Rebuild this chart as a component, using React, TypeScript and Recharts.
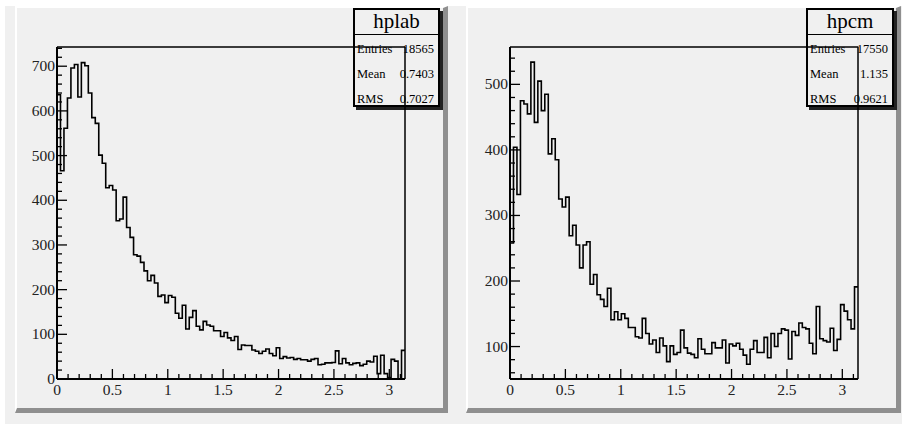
import React from "react";
import { LineChart, Line, XAxis, YAxis, ReferenceLine } from "recharts";

// ---- data ----
const HPLAB_VALUES = [
  636, 466, 561, 629, 696, 704, 631, 708, 701, 640,
  585, 572, 501, 483, 428, 433, 423, 354, 358, 407,
  339, 317, 278, 275, 261, 242, 220, 232, 215, 185,
  188, 171, 187, 183, 147, 136, 165, 112, 138, 153,
  118, 110, 129, 121, 118, 108, 108, 95, 104, 92,
  86, 95, 66, 76, 75, 75, 65, 62, 57, 62,
  67, 57, 52, 70, 46, 50, 47, 48, 44, 46,
  43, 43, 40, 44, 46, 32, 33, 36, 36, 37,
  63, 34, 46, 36, 32, 35, 36, 30, 33, 40,
  38, 51, 12, 53, 12, 3, 44, 40, 0, 64,
];

const HPCM_VALUES = [
  258, 404, 332, 475, 470, 455, 534, 442, 505, 460,
  485, 394, 417, 385, 325, 313, 328, 269, 285, 255,
  220, 255, 260, 195, 210, 179, 172, 161, 189, 141,
  153, 141, 150, 143, 129, 129, 115, 113, 143, 120,
  104, 110, 91, 113, 101, 77, 101, 88, 91, 125,
  98, 90, 88, 83, 112, 96, 89, 89, 106, 98,
  98, 110, 75, 104, 101, 105, 96, 87, 73, 96,
  109, 91, 91, 114, 83, 120, 100, 120, 127, 125,
  81, 123, 117, 136, 129, 127, 105, 89, 161, 112,
  109, 107, 128, 94, 111, 164, 154, 141, 127, 191,
];

const X_MAX = Math.PI;
const X_TICKS = [0, 0.1, 0.2, 0.3, 0.4, 0.5, 0.6, 0.7, 0.8, 0.9, 1, 1.1, 1.2, 1.3, 1.4, 1.5, 1.6, 1.7, 1.8, 1.9, 2, 2.1, 2.2, 2.3, 2.4, 2.5, 2.6, 2.7, 2.8, 2.9, 3, 3.1];
const X_MAJOR = [0, 0.5, 1, 1.5, 2, 2.5, 3];

const HPLAB_DOMAIN = [0, 743];
const HPLAB_Y_TICKS = Array.from({ length: 38 }, (_, k) => k * 20);
const HPLAB_Y_MAJOR = [0, 100, 200, 300, 400, 500, 600, 700];

const HPCM_DOMAIN = [50.5, 557];
const HPCM_Y_TICKS = Array.from({ length: 25 }, (_, k) => 60 + k * 20);
const HPCM_Y_MAJOR = [100, 200, 300, 400, 500];

const STAT_LABELS = ["Entries", "Mean", "RMS"];
const HPLAB_STATS = ["18565", "0.7403", "0.7027"];
const HPCM_STATS = ["17550", "1.135", "0.9621"];

const FONT = "'Liberation Serif', 'DejaVu Serif', serif";
const PAD_BG = "#f0f0f0";

function toBins(values: number[]) {
  const w = X_MAX / values.length;
  const pts = values.map((v, i) => ({ x: i * w, y: v }));
  pts.push({ x: X_MAX, y: values[values.length - 1] });
  return pts;
}

function isIn(list: number[], v: number) {
  return list.some((m) => Math.abs(m - v) < 1e-6);
}

function makeXTick() {
  return (props: any) => {
    const { x, y, payload } = props;
    const v = payload.value;
    const major = isIn(X_MAJOR, v);
    return (
      <g>
        <line x1={x} x2={x} y1={y} y2={y - (major ? 10 : 5)} stroke="#000" strokeWidth={1.3} />
        {major && (
          <text x={x} y={y + 16} textAnchor="middle" fontFamily={FONT} fontSize={15.5} fill="#222">
            {String(v)}
          </text>
        )}
      </g>
    );
  };
}

function makeYTick(majors: number[]) {
  return (props: any) => {
    const { x, y, payload } = props;
    const v = payload.value;
    const major = isIn(majors, v);
    return (
      <g>
        <line x1={x} x2={x + (major ? 10 : 5)} y1={y} y2={y} stroke="#000" strokeWidth={1.3} />
        {major && (
          <text x={x - 2} y={y + 5} textAnchor="end" fontFamily={FONT} fontSize={15.5} fill="#222">
            {String(v)}
          </text>
        )}
      </g>
    );
  };
}

function Hist(props: {
  values: number[];
  domain: number[];
  yTicks: number[];
  yMajor: number[];
  width: number;
  margin: any;
}) {
  const data = toBins(props.values);
  return (
    <LineChart width={props.width} height={424} data={data} margin={props.margin}>
      <XAxis
        dataKey="x"
        type="number"
        domain={[0, X_MAX]}
        ticks={X_TICKS}
        interval={0}
        allowDataOverflow
        tickSize={0}
        tickMargin={0}
        tickLine={false}
        height={30}
        axisLine={{ stroke: "#000", strokeWidth: 2 }}
        tick={makeXTick()}
      />
      <YAxis
        type="number"
        domain={props.domain}
        ticks={props.yTicks}
        interval={0}
        allowDataOverflow
        tickSize={0}
        tickMargin={0}
        tickLine={false}
        width={40}
        axisLine={{ stroke: "#000", strokeWidth: 2 }}
        tick={makeYTick(props.yMajor)}
      />
      <ReferenceLine y={props.domain[1]} stroke="#000" strokeWidth={1.5} />
      <ReferenceLine x={X_MAX} stroke="#000" strokeWidth={1.5} />
      <Line
        dataKey="y"
        type="stepAfter"
        stroke="#000"
        strokeWidth={1.6}
        dot={false}
        activeDot={false}
        isAnimationActive={false}
      />
    </LineChart>
  );
}

function StatBox(props: { left: number; width: number; title: string; values: string[] }) {
  const { left, width, title, values } = props;
  return (
    <div
      style={{
        position: "absolute",
        left,
        top: 8,
        width,
        height: 99,
        boxSizing: "border-box",
        border: "2px solid #000",
        boxShadow: "3px 3px 0 #222",
        fontFamily: FONT,
        color: "#000",
      }}
    >
      <div
        style={{
          height: 24,
          borderBottom: "1.5px solid #000",
          textAlign: "center",
          fontSize: 21,
          lineHeight: "22px",
        }}
      >
        {title}
      </div>
      {STAT_LABELS.map((lab, i) => (
        <div
          key={lab}
          style={{
            position: "absolute",
            left: 2,
            right: 4,
            top: 31 + i * 25,
            height: 16,
            fontSize: 12.5,
            lineHeight: "16px",
            display: "flex",
            justifyContent: "space-between",
          }}
        >
          <span>{lab}</span>
          <span>{values[i]}</span>
        </div>
      ))}
    </div>
  );
}

function Pad(props: { left: number; width: number }) {
  return (
    <div
      style={{
        position: "absolute",
        left: props.left,
        top: 6,
        width: props.width,
        height: 407,
        boxSizing: "border-box",
        background: PAD_BG,
        borderTop: "2px solid #fff",
        borderLeft: "2px solid #fff",
        borderRight: "5px solid #8f8f8f",
        borderBottom: "5px solid #8f8f8f",
      }}
    />
  );
}

export default function App() {
  return (
    <div
      style={{
        position: "absolute",
        left: 0,
        top: 0,
        width: 902,
        height: 424,
        background: PAD_BG,
        overflow: "hidden",
      }}
    >
      <div style={{ position: "absolute", left: 0, top: 0, width: 902, height: 6, background: "#fff" }} />
      <div style={{ position: "absolute", left: 0, top: 0, width: 5, height: 424, background: "#fff" }} />
      <Pad left={15} width={433} />
      <Pad left={466} width={435} />
      <StatBox left={353} width={87} title="hplab" values={HPLAB_STATS} />
      <StatBox left={806} width={88} title="hpcm" values={HPCM_STATS} />
      <div style={{ position: "absolute", left: 0, top: 0 }}>
        <Hist
          values={HPLAB_VALUES}
          domain={HPLAB_DOMAIN}
          yTicks={HPLAB_Y_TICKS}
          yMajor={HPLAB_Y_MAJOR}
          width={450}
          margin={{ top: 47, right: 45, bottom: 15, left: 17 }}
        />
      </div>
      <div style={{ position: "absolute", left: 451, top: 0 }}>
        <Hist
          values={HPCM_VALUES}
          domain={HPCM_DOMAIN}
          yTicks={HPCM_Y_TICKS}
          yMajor={HPCM_Y_MAJOR}
          width={451}
          margin={{ top: 47, right: 44, bottom: 15, left: 19 }}
        />
      </div>
    </div>
  );
}
